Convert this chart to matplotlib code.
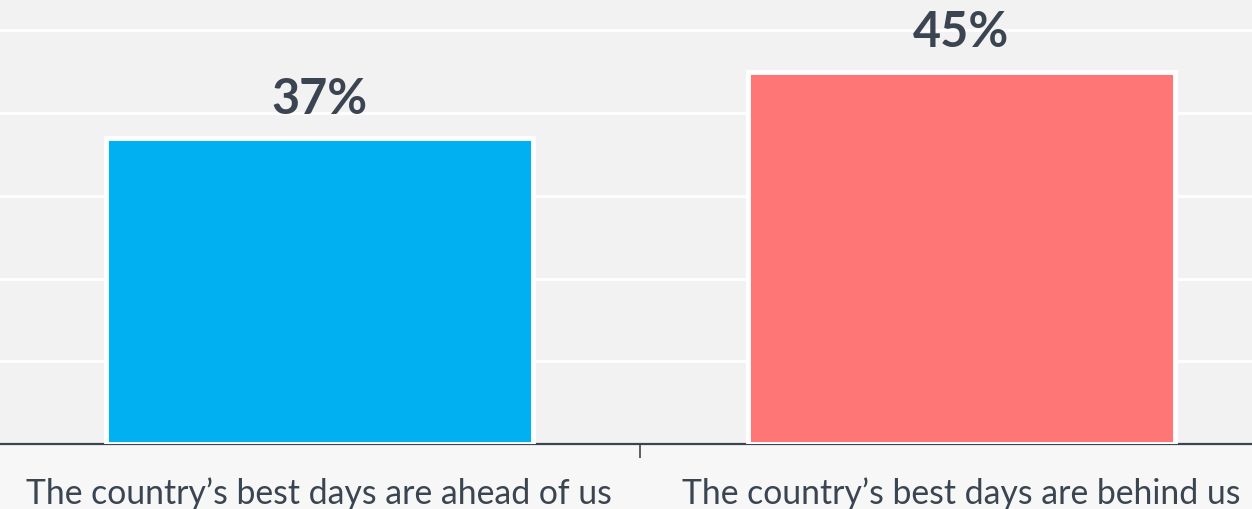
import matplotlib.pyplot as plt

categories = ["The country\u2019s best days are ahead of us",
              "The country\u2019s best days are behind us"]
values = [37, 45]
colors = ["#00b0f0", "#ff7677"]
labels = ["37%", "45%"]

text_col = "#3b4552"

fig = plt.figure(figsize=(12.52, 5.10), dpi=100, facecolor="#f7f7f7")
ax = fig.add_axes([0, 65 / 510, 1, 445 / 510])
ax.set_facecolor("#f2f2f2")

x = list(range(len(categories)))
bars = ax.bar(x, values, width=0.665, color=colors, edgecolor="white",
              linewidth=3.5, zorder=3)

for b, lab in zip(bars, labels):
    ax.text(b.get_x() + b.get_width() / 2, b.get_height() + 2.1, lab,
            ha="center", va="bottom", fontsize=35, fontweight="bold",
            family="Lato", color=text_col)

ax.set_xlim(-0.497, 1.453)
ax.set_ylim(0, 53.8)
ax.set_yticks([10, 20, 30, 40, 50])
ax.yaxis.grid(True, color="white", linewidth=2, zorder=0)
ax.tick_params(axis="y", left=False, labelleft=False)

ax.set_xticks([0.5])
ax.set_xticklabels([""])
ax.tick_params(axis="x", length=10, width=1.2, color=text_col, direction="out")
for i, c in enumerate(categories):
    ax.text(i, -3.9, c, ha="center", va="top", fontsize=24.3, family="Lato",
            color=text_col, clip_on=False)

for s in ["top", "left", "right"]:
    ax.spines[s].set_visible(False)
ax.spines["bottom"].set_color(text_col)
ax.spines["bottom"].set_linewidth(1.6)

fig.savefig("out.png", dpi=100, facecolor=fig.get_facecolor())
